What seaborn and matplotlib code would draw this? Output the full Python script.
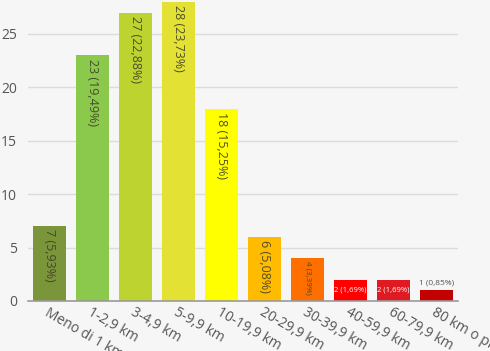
import matplotlib
matplotlib.use("Agg")
import matplotlib.pyplot as plt
import seaborn as sns
import pandas as pd

categories = ["Meno di 1 km", "1-2,9 km", "3-4,9 km", "5-9,9 km", "10-19,9 km",
              "20-29,9 km", "30-39,9 km", "40-59,9 km", "60-79,9 km", "80 km o più"]
counts = [7, 23, 27, 28, 18, 6, 4, 2, 2, 1]
percents = ["5,93%", "19,49%", "22,88%", "23,73%", "15,25%",
            "5,08%", "3,39%", "1,69%", "1,69%", "0,85%"]
colors = ["#7b953a", "#8bc94c", "#bdd430", "#e3e234", "#ffff00",
          "#ffbb00", "#ff6f00", "#ff0000", "#e01a22", "#c20000"]

df = pd.DataFrame({"cat": categories, "n": counts})

plt.rcParams["font.family"] = ["Open Sans", "DejaVu Sans"]

bg = "#f6f6f6"
fig = plt.figure(figsize=(4.9, 3.51), dpi=100, facecolor=bg)
ax = fig.add_axes([28/490, 1-301/351, 430/490, 301/351])
ax.set_facecolor(bg)

sns.barplot(data=df, x="cat", y="n", hue="cat", palette=colors, legend=False,
            width=0.79, saturation=1, ax=ax, order=categories, hue_order=categories)

ax.set_xlim(-0.5, 9.5)
ax.set_ylim(0, 28.18)
ax.set_yticks([0, 5, 10, 15, 20, 25])
ax.grid(False)
ax.yaxis.grid(True, color="#dcdcdc", linewidth=1)
ax.set_axisbelow(True)
for s in ["top", "right", "left"]:
    ax.spines[s].set_visible(False)
ax.spines["bottom"].set_color("#9a9a9a")
ax.spines["bottom"].set_linewidth(1.2)
ax.tick_params(length=0, colors="#555555", labelsize=10)
ax.tick_params(axis="y", pad=8)
ax.set_xlabel("")
ax.set_ylabel("")
ax.set_xticks(range(len(categories)))
ax.set_xticklabels(categories, rotation=-30, ha="left", va="top",
                   rotation_mode="anchor", color="#555555")
ax.tick_params(axis="x", pad=3)

# value labels
for i, (n, p) in enumerate(zip(counts, percents)):
    txt = f"{n} ({p})"
    off = 0.3
    if n >= 5:
        ax.text(i, n - off, txt, rotation=270, ha="center", va="top",
                fontsize=9, color="#3f3f2a", alpha=0.9)
    elif n >= 3:
        ax.text(i, n - off, txt, rotation=270, ha="center", va="top",
                fontsize=5.8, color="#3f3f2a", alpha=0.9)
    elif n >= 2:
        ax.text(i, n / 2, txt, ha="center", va="center",
                fontsize=5.5, color="white")
    else:
        ax.text(i, n + 0.35, txt, ha="center", va="bottom",
                fontsize=6, color="#555555")

fig.savefig("out.png", dpi=100, facecolor=bg)
